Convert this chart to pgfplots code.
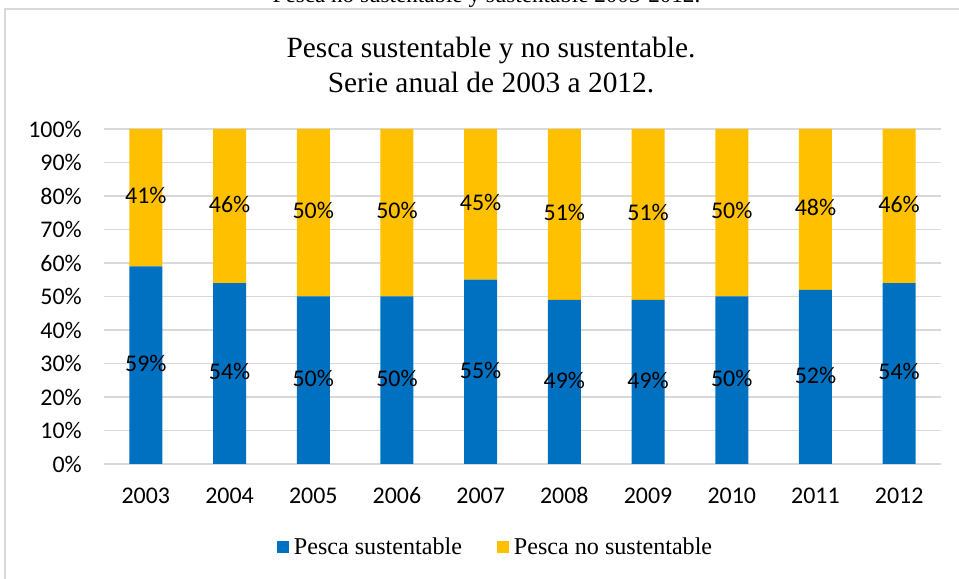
\documentclass[border=0pt]{standalone}
\usepackage{fontspec}
\setmainfont{Liberation Serif}
\newfontfamily\carlito{Carlito}
\usepackage{pgfplots}
\pgfplotsset{compat=1.18}
\definecolor{xblue}{RGB}{0,112,192}
\definecolor{xgold}{RGB}{255,192,0}
\definecolor{gridgray}{RGB}{217,217,217}
\begin{document}
\begin{tikzpicture}
\useasboundingbox (0,0) rectangle (959bp,579bp);
\draw[gridgray, line width=1.3bp] (5bp,-10bp) rectangle (970bp,570bp);
\node[font=\fontsize{23.2}{27}\selectfont, anchor=base, inner sep=0pt] at (486.5bp,576bp) {Pesca no sustentable y sustentable 2003-2012.};
\node[font=\fontsize{29.5}{35}\selectfont, align=center] at (491bp,514bp) {Pesca sustentable y no sustentable.\\Serie anual de 2003 a 2012.};
\begin{axis}[
  at={(104bp,115bp)}, anchor=south west,
  scale only axis, width=837bp, height=335bp,
  ybar stacked, bar width=33bp,
  xmin=-0.5, xmax=9.5, ymin=0, ymax=100,
  xtick={0,1,2,3,4,5,6,7,8,9},
  xticklabels={2003,2004,2005,2006,2007,2008,2009,2010,2011,2012},
  ytick={0,10,20,30,40,50,60,70,80,90,100},
  yticklabel={\pgfmathprintnumber{\tick}\%},
  /pgf/number format/assume math mode=true,
  ticklabel style={font=\carlito\fontsize{24}{28}\selectfont, inner sep=0pt},
  yticklabel style={anchor=east, xshift=-22bp},
  xticklabel style={anchor=base, yshift=-39bp},
  ymajorgrids, grid style={draw=gridgray, line width=1.3bp},
  axis line style={draw=none}, major tick length=0pt,
  visualization depends on=rawy \as \rawy,
  nodes near coords={\pgfmathprintnumber[fixed,precision=0]{\rawy}\%},
  every node near coord/.append style={anchor=center, yshift=-3bp, text height=0.63em, text depth=0pt, font=\carlito\fontsize{24}{28}\selectfont, text=black, inner sep=0pt},
  legend columns=2,
  legend image code/.code={\fill[#1,draw=none] (0bp,-6bp) rectangle (12bp,6bp);},
  legend style={at={(0.4666,-0.248)}, anchor=center, draw=none, fill=none,
    font=\fontsize{24.2}{28}\selectfont, nodes={inner sep=0pt},
    /tikz/every odd column/.append style={column sep=5bp},
    /tikz/every even column/.append style={column sep=35bp}},
]
\addplot[fill=xblue, draw=none] coordinates {(0,59) (1,54) (2,50) (3,50) (4,55) (5,49) (6,49) (7,50) (8,52) (9,54)};
\addplot[fill=xgold, draw=none] coordinates {(0,41) (1,46) (2,50) (3,50) (4,45) (5,51) (6,51) (7,50) (8,48) (9,46)};
\legend{Pesca sustentable, Pesca no sustentable}
\end{axis}
\end{tikzpicture}
\end{document}
